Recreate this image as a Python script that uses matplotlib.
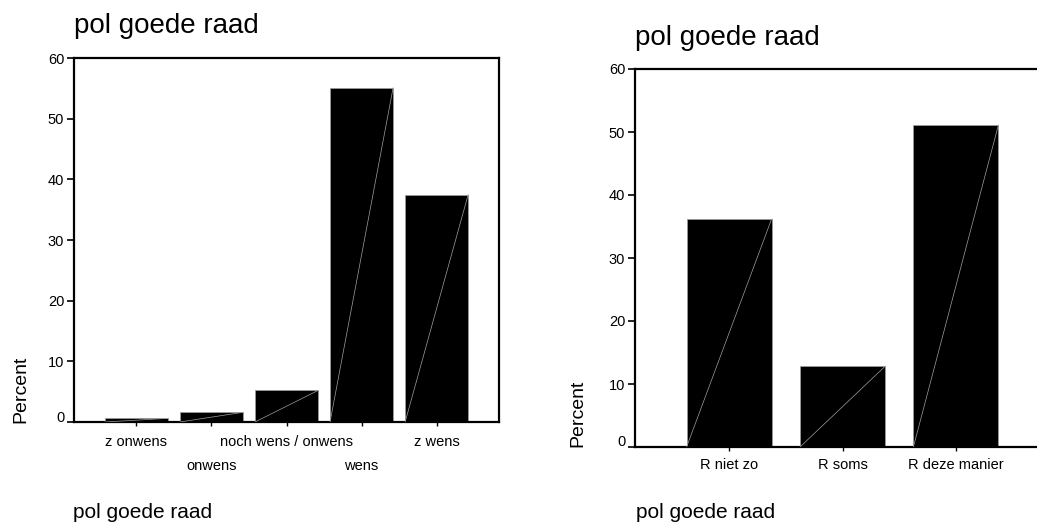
import matplotlib.pyplot as plt
from matplotlib.transforms import ScaledTranslation

plt.rcParams["font.family"] = ["Liberation Sans", "DejaVu Sans"]

# left chart: pol goede raad (5 categories)
left_categories = ["z onwens", "onwens", "noch wens / onwens", "wens", "z wens"]
left_percent = [0.6, 1.6, 5.2, 55.1, 37.5]

# right chart: pol goede raad (recoded, 3 categories)
right_categories = ["R niet zo", "R soms", "R deze manier"]
right_percent = [36.2, 12.8, 51.1]

y_ticks = [0, 10, 20, 30, 40, 50, 60]
title = "pol goede raad"

W, H = 1037, 524
fig = plt.figure(figsize=(W / 100, H / 100), dpi=100)


def px_box(left, top, right, bottom):
    return [left / W, 1 - bottom / H, (right - left) / W, (bottom - top) / H]


def draw_bars(ax, values, width):
    xs = range(len(values))
    ax.bar(xs, values, width=width, color="black", edgecolor="#9a9a9a",
           linewidth=0.6, zorder=2)
    # thin light diagonal inside every bar (as in the original export)
    for x, v in zip(xs, values):
        ax.plot([x - width / 2, x + width / 2], [0, v], color="#a0a0a0",
                lw=0.5, zorder=3)


def style_axes(ax, full_frame):
    ax.set_ylim(0, 60)
    ax.set_yticks(y_ticks)
    ax.tick_params(axis="y", labelsize=10.5, length=5, width=1.2, pad=2)
    ax.tick_params(axis="x", which="both", labelsize=10.5, length=3, width=1.0)
    for s in ax.spines.values():
        s.set_linewidth(1.6)
    if not full_frame:
        ax.spines["right"].set_visible(False)
    # the 0 label sits slightly above its tick in the original
    lab0 = ax.get_yticklabels()[0]
    lab0.set_transform(lab0.get_transform()
                       + ScaledTranslation(0, 6 / 100, fig.dpi_scale_trans))


# ---- left chart
ax1 = fig.add_axes(px_box(74, 58, 499, 422))
draw_bars(ax1, left_percent, 0.84)
ax1.set_xlim(-0.83, len(left_percent) - 1 + 0.83)
style_axes(ax1, True)
# staggered category labels: even ones on row 1, odd ones on row 2
even = list(range(0, len(left_categories), 2))
odd = list(range(1, len(left_categories), 2))
ax1.set_xticks(even)
ax1.set_xticklabels([left_categories[i] for i in even])
ax1.set_xticks(odd, minor=True)
ax1.set_xticklabels([left_categories[i] for i in odd], minor=True)
ax1.tick_params(axis="x", which="major", pad=6)
ax1.tick_params(axis="x", which="minor", pad=24)

fig.text(74 / W, 1 - 33 / H, title, fontsize=20, ha="left", va="baseline")
fig.text(21 / W, 1 - 423 / H, "Percent", fontsize=14, rotation=90,
         ha="center", va="bottom")
fig.text(73 / W, 1 - 518 / H, title, fontsize=15, ha="left", va="baseline")

# ---- right chart (runs past the right edge of the picture)
ax2 = fig.add_axes(px_box(635, 69, 1050, 447))
draw_bars(ax2, right_percent, 0.75)
ax2.set_xlim(-0.83, len(right_percent) - 1 + 0.83)
style_axes(ax2, False)
ax2.set_xticks(range(len(right_categories)))
ax2.set_xticklabels(right_categories)
ax2.tick_params(axis="x", pad=5)

fig.text(635 / W, 1 - 45 / H, title, fontsize=20, ha="left", va="baseline")
fig.text(578 / W, 1 - 447 / H, "Percent", fontsize=14, rotation=90,
         ha="center", va="bottom")
fig.text(636 / W, 1 - 518 / H, title, fontsize=15, ha="left", va="baseline")

fig.savefig("out.png", dpi=100)
